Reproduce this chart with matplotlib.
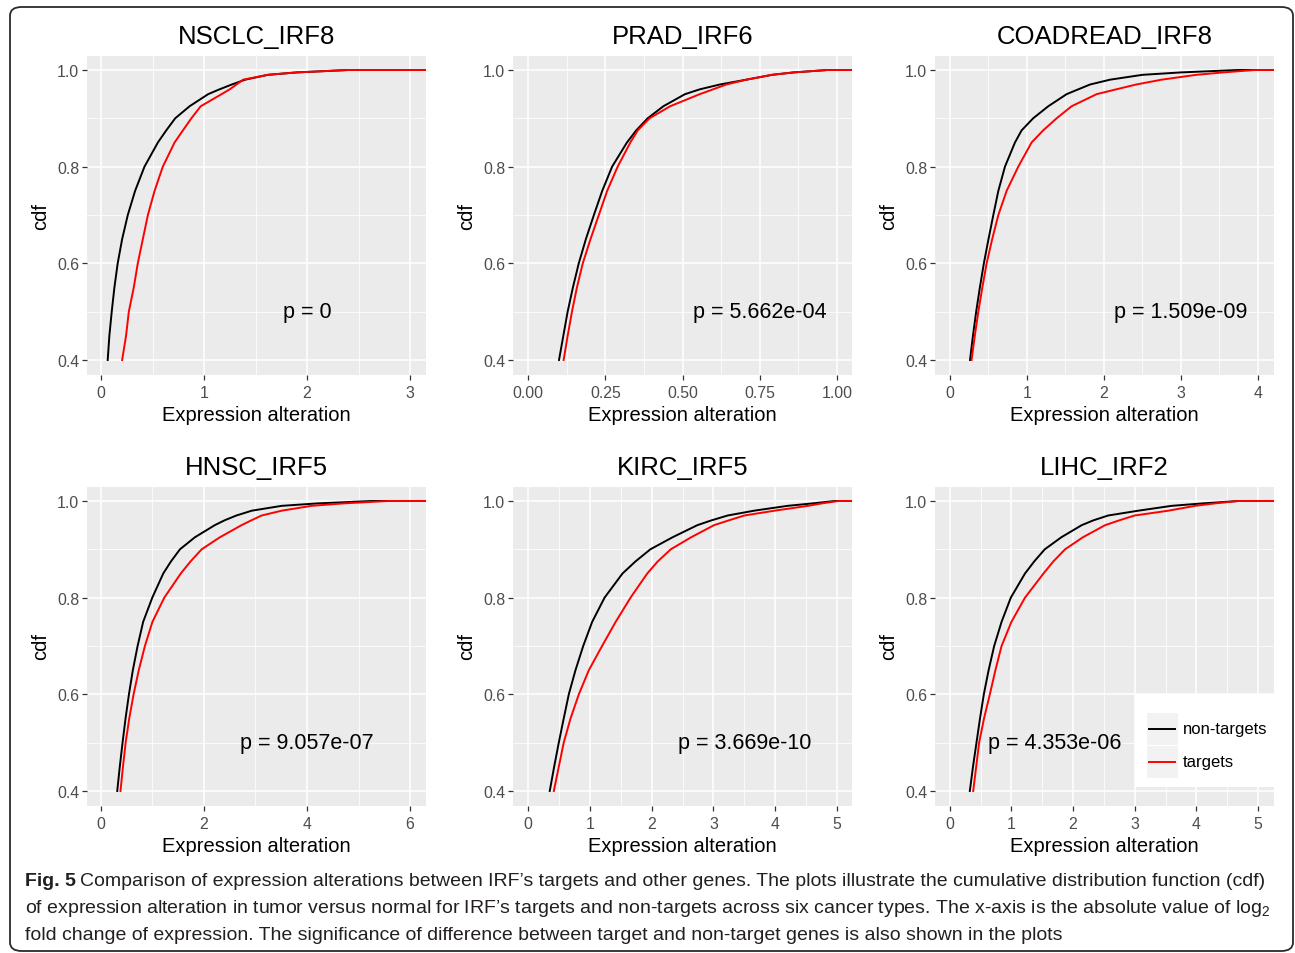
import numpy as np
import matplotlib
matplotlib.use("Agg")
import matplotlib.pyplot as plt
from matplotlib.patches import FancyBboxPatch, Rectangle
from matplotlib.lines import Line2D

W, H = 1295, 954

# === Data ===
titles = ["NSCLC_IRF8", "PRAD_IRF6", "COADREAD_IRF8", "HNSC_IRF5", "KIRC_IRF5", "LIHC_IRF2"]
p_labels = ["p = 0", "p = 5.662e-04", "p = 1.509e-09", "p = 9.057e-07", "p = 3.669e-10", "p = 4.353e-06"]
p_x = [2.0, 0.75, 3.0, 4.0, 3.5, 1.7]
p_y = 0.5

cdf_levels = [0.40, 0.45, 0.50, 0.55, 0.60, 0.65, 0.70, 0.75, 0.80, 0.85,
              0.875, 0.90, 0.925, 0.95, 0.96, 0.97, 0.98, 0.99, 0.995, 1.00]

nontargets_x = [
    [0.065, 0.081, 0.104, 0.13, 0.162, 0.205, 0.26, 0.331, 0.422, 0.552,
     0.633, 0.72, 0.86, 1.04, 1.15, 1.27, 1.40, 1.62, 1.9, 2.4],
    [0.100, 0.114, 0.128, 0.145, 0.164, 0.187, 0.213, 0.240, 0.272, 0.320,
     0.350, 0.387, 0.438, 0.508, 0.556, 0.621, 0.707, 0.79, 0.86, 0.97],
    [0.26, 0.298, 0.34, 0.388, 0.44, 0.50, 0.563, 0.628, 0.714, 0.844,
     0.93, 1.08, 1.277, 1.515, 1.667, 1.82, 2.08, 2.5, 3.0, 3.74],
    [0.317, 0.366, 0.42, 0.478, 0.544, 0.62, 0.712, 0.82, 0.997, 1.21,
     1.36, 1.534, 1.825, 2.21, 2.40, 2.63, 2.93, 3.51, 4.2, 5.26],
    [0.354, 0.425, 0.50, 0.58, 0.662, 0.77, 0.895, 1.04, 1.24, 1.53,
     1.74, 1.98, 2.34, 2.74, 2.97, 3.23, 3.66, 4.2, 4.6, 4.96],
    [0.325, 0.376, 0.433, 0.49, 0.552, 0.63, 0.72, 0.84, 0.99, 1.22,
     1.37, 1.54, 1.81, 2.14, 2.33, 2.57, 3.06, 3.6, 4.1, 4.68],
]
targets_x = [
    [0.205, 0.243, 0.27, 0.318, 0.357, 0.406, 0.455, 0.52, 0.60, 0.714,
     0.795, 0.877, 0.968, 1.17, 1.25, 1.315, 1.38, 1.62, 1.9, 2.4],
    [0.115, 0.128, 0.142, 0.158, 0.177, 0.202, 0.229, 0.256, 0.290, 0.331,
     0.355, 0.393, 0.46, 0.556, 0.599, 0.642, 0.707, 0.79, 0.86, 0.97],
    [0.28, 0.322, 0.368, 0.42, 0.476, 0.548, 0.628, 0.736, 0.887, 1.06,
     1.21, 1.385, 1.58, 1.905, 2.16, 2.42, 2.75, 3.2, 3.55, 3.96],
    [0.38, 0.428, 0.48, 0.55, 0.634, 0.735, 0.854, 1.0, 1.23, 1.55,
     1.74, 1.955, 2.31, 2.73, 2.92, 3.12, 3.51, 4.09, 4.7, 5.58],
    [0.42, 0.50, 0.58, 0.69, 0.824, 0.986, 1.20, 1.42, 1.66, 1.93,
     2.10, 2.31, 2.64, 3.01, 3.25, 3.5, 3.99, 4.53, 4.75, 5.02],
    [0.38, 0.428, 0.476, 0.555, 0.65, 0.74, 0.84, 1.0, 1.22, 1.52,
     1.68, 1.87, 2.16, 2.52, 2.75, 3.0, 3.55, 3.98, 4.3, 4.68],
]

x_lims = [(-0.136, 3.155), (-0.049, 1.049), (-0.195, 4.21), (-0.27, 6.31), (-0.24, 5.24), (-0.24, 5.26)]
x_ticks = [[0, 1, 2, 3], [0, 0.25, 0.5, 0.75, 1.0], [0, 1, 2, 3, 4], [0, 2, 4, 6], [0, 1, 2, 3, 4, 5], [0, 1, 2, 3, 4, 5]]
x_ticklabels = [["0", "1", "2", "3"], ["0.00", "0.25", "0.50", "0.75", "1.00"], ["0", "1", "2", "3", "4"],
                ["0", "2", "4", "6"], ["0", "1", "2", "3", "4", "5"], ["0", "1", "2", "3", "4", "5"]]
y_ticks = [0.4, 0.6, 0.8, 1.0]

caption_lines = [
    "Comparison of expression alterations between IRF\u2019s targets and other genes. The plots illustrate the cumulative distribution function (cdf)",
    "of expression alteration in tumor versus normal for IRF\u2019s targets and non-targets across six cancer types. The x-axis is the absolute value of log$_2$",
    "fold change of expression. The significance of difference between target and non-target genes is also shown in the plots",
]

# === Style ===
plt.rcParams["font.family"] = ["Liberation Sans", "DejaVu Sans"]
BG = "#EBEBEB"
TICK_COL = "#333333"
LAB_COL = "#4D4D4D"


def fx(px):
    return px / W


def fy(py):
    return 1 - py / H


fig = plt.figure(figsize=(W / 100, H / 100), dpi=100)
fig.patch.set_facecolor("white")

col_left = [87, 513, 935]
row_top = [56.5, 487.5]
pw, ph = 339, 319

axes = []
for i in range(6):
    r, c = divmod(i, 3)
    ax = fig.add_axes([fx(col_left[c]), fy(row_top[r] + ph), pw / W, ph / H])
    ax.set_facecolor(BG)
    for s in ax.spines.values():
        s.set_visible(False)
    xlo, xhi = x_lims[i]
    ax.set_xlim(xlo, xhi)
    ax.set_ylim(0.37, 1.03)

    ax.set_xticks(x_ticks[i])
    ax.set_xticklabels(x_ticklabels[i])
    mt = x_ticks[i]
    ax.set_xticks([(a + b) / 2 for a, b in zip(mt[:-1], mt[1:])], minor=True)
    ax.set_yticks(y_ticks)
    ax.set_yticklabels(["0.4", "0.6", "0.8", "1.0"])
    ax.set_yticks([0.5, 0.7, 0.9], minor=True)
    ax.grid(which="major", color="white", linewidth=1.1)
    ax.grid(which="minor", color="white", linewidth=0.55)
    ax.set_axisbelow(True)
    ax.tick_params(which="major", length=3.5, width=0.9, color=TICK_COL,
                   labelcolor=LAB_COL, labelsize=11.4, pad=2)
    ax.tick_params(axis="x", which="major", pad=3.8)
    ax.tick_params(which="minor", length=0)

    # cdf curves, extended flat at 1.0 to the panel edge
    xb = list(nontargets_x[i]) + [xhi + 1]
    xr = list(targets_x[i]) + [xhi + 1]
    yy = list(cdf_levels) + [1.0]
    ax.plot(xb, yy, color="black", linewidth=1.4, solid_joinstyle="round")
    ax.plot(xr, yy, color="#FF0000", linewidth=1.4, solid_joinstyle="round")

    ax.text(p_x[i], p_y, p_labels[i], fontsize=15.5, ha="center", va="center", color="black")
    ax.set_title(titles[i], fontsize=18.5, pad=9, color="black")
    ax.set_xlabel("Expression alteration", fontsize=14.5, labelpad=4, color="black")
    ax.set_ylabel("cdf", fontsize=14.5, labelpad=5, color="black")
    axes.append(ax)

# === Legend (inside the last panel) ===
ax6 = axes[5]
ax6.add_patch(Rectangle((fx(1135), fy(788)), (1274 - 1135) / W, (788 - 695) / H,
                        transform=fig.transFigure, facecolor="white", edgecolor="none", zorder=3))
legend_items = [("non-targets", "black", 713), ("targets", "#FF0000", 746)]
for lab, col, top in legend_items:
    ax6.add_patch(Rectangle((fx(1146), fy(top + 33)), 32 / W, 33 / H,
                            transform=fig.transFigure, facecolor="#F2F2F2", edgecolor="white",
                            linewidth=0.8, zorder=4))
    ax6.add_line(Line2D([fx(1149), fx(1175)], [fy(top + 16.5)] * 2, transform=fig.transFigure,
                        color=col, linewidth=1.4, zorder=5))
    ax6.text(fx(1183), fy(top + 16.5), lab, transform=fig.transFigure, fontsize=12,
             va="center", ha="left", color="black", zorder=5)

# === Outer frame ===
frame = FancyBboxPatch((fx(10), fy(952)), (1293 - 10) / W, (952 - 8) / H,
                       boxstyle="round,pad=0,rounding_size=0.009", transform=fig.transFigure,
                       facecolor="none", edgecolor="#2b2b2b", linewidth=1.3)
fig.add_artist(frame)

# === Caption ===
cap_fonts = ["Liberation Sans Narrow", "Liberation Sans"]
plt.rcParams["mathtext.fontset"] = "custom"
plt.rcParams["mathtext.rm"] = "Liberation Sans"
plt.rcParams["mathtext.it"] = "Liberation Sans"
cap_col = "#231F20"
cap_y = [882, 909, 936]

size = 13
fig.canvas.draw()
renderer = fig.canvas.get_renderer()
for _ in range(3):
    tb = fig.text(fx(25), fy(cap_y[0]), "Fig. 5", fontsize=size, fontweight="bold",
                  family=cap_fonts, color=cap_col, va="center")
    wb = tb.get_window_extent(renderer).width
    tr = fig.text(fx(25 + wb + 4), fy(cap_y[0]), caption_lines[0], fontsize=size,
                  family=cap_fonts, color=cap_col, va="center")
    wr = tr.get_window_extent(renderer).width
    total = wb + 4 + wr
    tb.remove()
    tr.remove()
    size *= (1262 - 25) / total

tb = fig.text(fx(25), fy(cap_y[0]), "Fig. 5", fontsize=size, fontweight="bold",
              family=cap_fonts, color=cap_col, va="center")
wb = tb.get_window_extent(renderer).width
fig.text(fx(25 + wb + 4), fy(cap_y[0]), caption_lines[0], fontsize=size,
         family=cap_fonts, color=cap_col, va="center")
fig.text(fx(25), fy(cap_y[1]), caption_lines[1], fontsize=size,
         family=cap_fonts, color=cap_col, va="center")
fig.text(fx(25), fy(cap_y[2]), caption_lines[2], fontsize=size,
         family=cap_fonts, color=cap_col, va="center")

fig.savefig("out.png", dpi=100, facecolor="white")
